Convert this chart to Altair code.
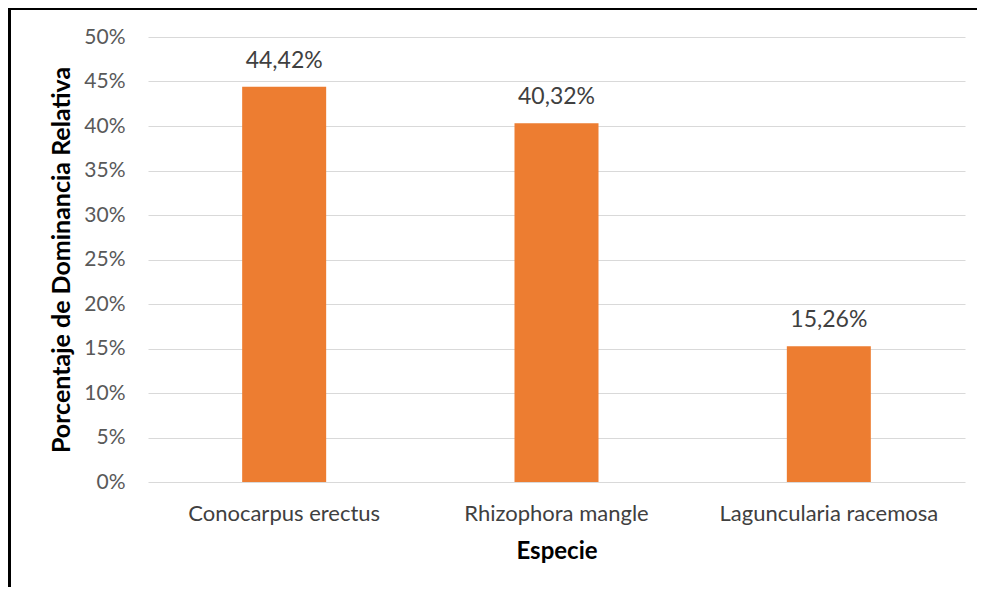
import altair as alt
import pandas as pd

species = ["Conocarpus erectus", "Rhizophora mangle", "Laguncularia racemosa"]
values = [0.4442, 0.4032, 0.1526]
y_ticks = [0, 0.05, 0.10, 0.15, 0.20, 0.25, 0.30, 0.35, 0.40, 0.45, 0.50]

df = pd.DataFrame({"Especie": species, "valor": values})

FONT = "Lato"
ORANGE = "#ED7D31"

base = alt.Chart(df).encode(
    x=alt.X(
        "Especie:N",
        sort=species,
        scale=alt.Scale(paddingInner=0, paddingOuter=0),
        axis=alt.Axis(
            title="Especie",
            labelAngle=0,
            labelFont=FONT,
            labelFontSize=22,
            labelLimit=400,
            labelColor="#404040",
            labelPadding=21,
            titleFont=FONT,
            titleFontSize=24,
            titleFontWeight="bold",
            titleColor="#000000",
            titlePadding=15,
            ticks=False,
            domain=False,
        ),
    ),
    y=alt.Y(
        "valor:Q",
        scale=alt.Scale(domain=[0, 0.5], nice=False),
        axis=alt.Axis(
            title="Porcentaje de Dominancia Relativa",
            values=y_ticks,
            format=".0%",
            labelFont=FONT,
            labelFontSize=21,
            labelColor="#595959",
            labelPadding=23,
            titleFont=FONT,
            titleFontSize=25,
            titleFontWeight="bold",
            titleColor="#000000",
            titlePadding=9,
            titleLimit=600,
            ticks=False,
            domain=False,
            gridColor="#d9d9d9",
            gridWidth=1,
        ),
    ),
)

bars = base.mark_bar(size=84, color=ORANGE)

labels = base.mark_text(
    dy=-26, font=FONT, fontSize=23, color="#404040", baseline="middle"
).encode(text="lbl:N").transform_calculate(
    lbl="replace(format(datum.valor, '.2%'), '.', ',')"
)

border_top = alt.Chart(df).mark_rule(color="#000000", strokeWidth=3).encode(
    x=alt.value(-138.5), x2=alt.value(900), y=alt.value(-28.5)
)
border_left = alt.Chart(df).mark_rule(color="#000000", strokeWidth=3).encode(
    x=alt.value(-138.5), y=alt.value(-30), y2=alt.value(700)
)

chart = alt.layer(bars, labels, border_top, border_left).properties(
    width=817,
    height=445,
    autosize=alt.AutoSizeParams(type="none"),
    padding={"left": 140, "top": 29, "right": 12, "bottom": 105},
).configure_view(stroke=None)

chart.save("out.html", embed_options={"renderer": "svg", "actions": False})
